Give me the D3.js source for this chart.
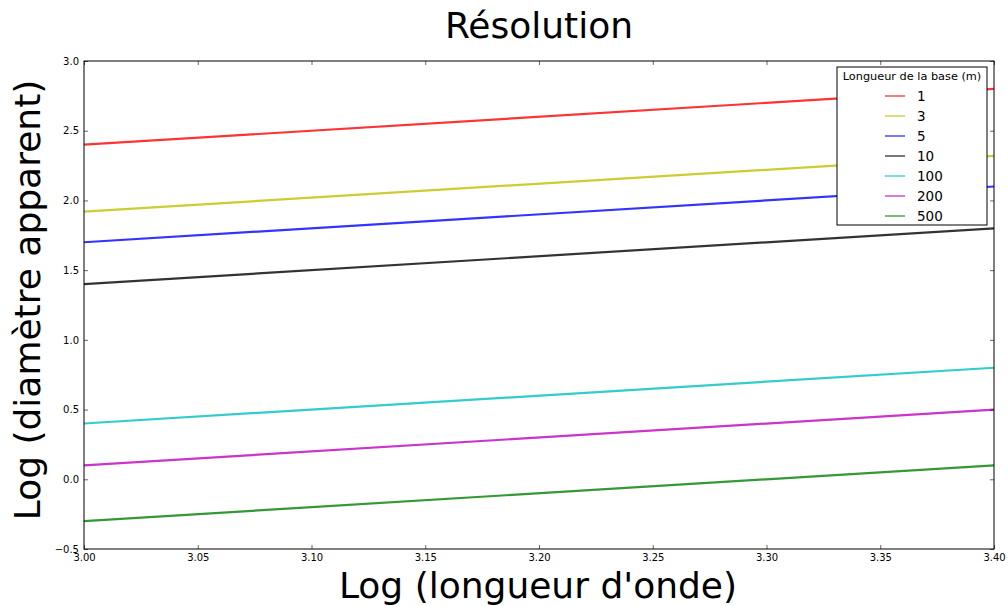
<!DOCTYPE html>
<html>
<head>
<meta charset="UTF-8">
<title>Résolution</title>
<style>
  body { margin: 0; background: #fff; }
  svg { display: block; font-family: "DejaVu Sans", sans-serif; }
</style>
</head>
<body>
<svg></svg>
<script src="https://d3js.org/d3.v7.min.js"></script>
<script>

let width = 1008, height = 606;

// Data
let bases = ["1", "3", "5", "10", "100", "200", "500"];
let colors = ["#ff0000", "#bfbf00", "#0000ff", "#000000", "#00bfbf", "#bf00bf", "#008000"];
let logLambda = [3.0, 3.4];
let diamStart = [2.4, 1.92, 1.7, 1.4, 0.4, 0.1, -0.3];
let diamEnd = [2.8, 2.32, 2.1, 1.8, 0.8, 0.5, 0.1];
let xTicks = [3.00, 3.05, 3.10, 3.15, 3.20, 3.25, 3.30, 3.35, 3.40];
let yTicks = [-0.5, 0.0, 0.5, 1.0, 1.5, 2.0, 2.5, 3.0];

let margin = {left: 84, right: 14, top: 61, bottom: 57};

let svg = d3.select("svg")
    .attr("width", width)
    .attr("height", height);

let x = d3.scaleLinear()
    .domain([3.0, 3.4])
    .range([margin.left, width - margin.right]);

let y = d3.scaleLinear()
    .domain([-0.5, 3.0])
    .range([height - margin.bottom, margin.top]);

let series = bases.map((b, i) => ({
    name: b,
    color: colors[i],
    points: [[logLambda[0], diamStart[i]], [logLambda[1], diamEnd[i]]]
}));

let line = d3.line()
    .x(d => x(d[0]))
    .y(d => y(d[1]));

// lines
svg.append("g")
    .selectAll("path")
    .data(series)
    .enter()
    .append("path")
    .attr("d", d => line(d.points))
    .attr("fill", "none")
    .attr("stroke", d => d.color)
    .attr("stroke-opacity", 0.8)
    .attr("stroke-width", 2.2);

// axes, matplotlib classic style: ticks inward on all sides
let fmtY = v => d3.format(".1f")(v).replace("-", "\u2212");

let axL = svg.append("g")
    .attr("transform", "translate(" + x.range()[0] + ",0)")
    .call(d3.axisLeft(y).tickValues(yTicks).tickFormat(fmtY).tickSizeInner(-4).tickSizeOuter(0).tickPadding(5));
let axR = svg.append("g")
    .attr("transform", "translate(" + x.range()[1] + ",0)")
    .call(d3.axisRight(y).tickValues(yTicks).tickFormat("").tickSizeInner(-4).tickSizeOuter(0));
let axB = svg.append("g")
    .attr("transform", "translate(0," + y.range()[0] + ")")
    .call(d3.axisBottom(x).tickValues(xTicks).tickFormat(d3.format(".2f")).tickSizeInner(-4).tickSizeOuter(0).tickPadding(5));
let axT = svg.append("g")
    .attr("transform", "translate(0," + y.range()[1] + ")")
    .call(d3.axisTop(x).tickValues(xTicks).tickFormat("").tickSizeInner(-4).tickSizeOuter(0));

[axL, axR, axB, axT].forEach(a => {
    a.select(".domain").remove();
    a.selectAll(".tick line").attr("stroke", "#000").attr("stroke-width", 0.6);
    a.selectAll("text")
        .attr("fill", "#000")
        .style("font-family", "DejaVu Sans")
        .style("font-size", "10px");
});

// frame
svg.append("rect")
    .attr("x", x.range()[0])
    .attr("y", y.range()[1])
    .attr("width", x.range()[1] - x.range()[0])
    .attr("height", y.range()[0] - y.range()[1])
    .attr("fill", "none")
    .attr("stroke", "#000")
    .attr("stroke-width", 1);

// legend
let lg = svg.append("g").attr("transform", "translate(837,67)");
lg.append("rect")
    .attr("x", 0).attr("y", 0)
    .attr("width", 150).attr("height", 158)
    .attr("fill", "#fff")
    .attr("stroke", "#000")
    .attr("stroke-width", 1);
lg.append("text")
    .attr("x", 75).attr("y", 13)
    .attr("text-anchor", "middle")
    .style("font-size", "11.3px")
    .text("Longueur de la base (m)");
let items = lg.selectAll(".item")
    .data(series)
    .enter()
    .append("g")
    .attr("transform", (d, i) => "translate(0," + (29 + i * 20) + ")");
items.append("line")
    .attr("x1", 48).attr("x2", 68)
    .attr("stroke", d => d.color)
    .attr("stroke-opacity", 0.7)
    .attr("stroke-width", 1.5);
items.append("text")
    .attr("x", 80).attr("y", 5)
    .style("font-size", "13.5px")
    .text(d => d.name);

// title and axis labels
svg.append("text")
    .attr("x", 539).attr("y", 38)
    .attr("text-anchor", "middle")
    .style("font-size", "36px")
    .text("Résolution");

svg.append("text")
    .attr("x", 538).attr("y", 598)
    .attr("text-anchor", "middle")
    .style("font-size", "36px")
    .text("Log (longueur d'onde)");

svg.append("text")
    .attr("transform", "translate(40,300) rotate(-90)")
    .attr("text-anchor", "middle")
    .style("font-size", "36px")
    .text("Log (diamètre apparent)");

</script>
</body>
</html>
